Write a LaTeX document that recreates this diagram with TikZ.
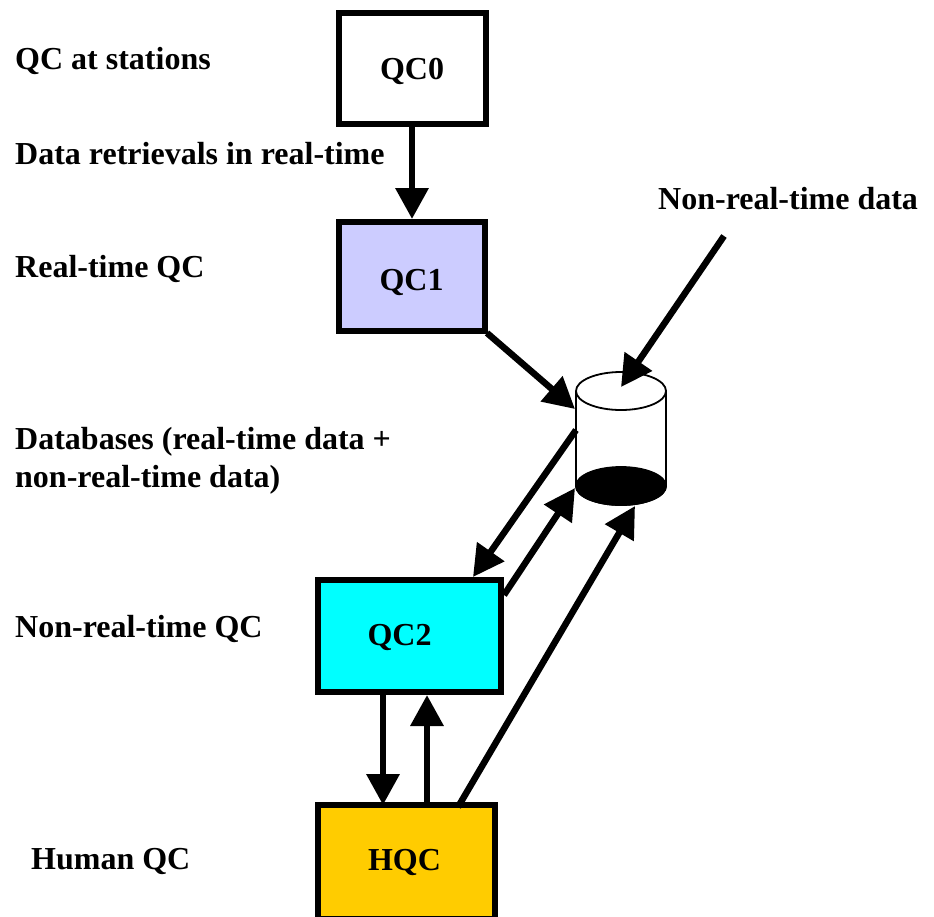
\documentclass[tikz,border=0pt]{standalone}
\usepackage{fontspec}
\setmainfont{Liberation Serif}
\usetikzlibrary{arrows.meta}
\definecolor{qcone}{RGB}{204,204,255}
\definecolor{qctwo}{RGB}{0,255,255}
\definecolor{hqc}{RGB}{255,204,0}
\tikzset{
  box/.style={draw=black,line width=6pt,inner sep=0pt,outer sep=0pt,anchor=north west},
  lbl/.style={inner sep=0pt,anchor=base west,font=\fontsize{32}{32}\selectfont\bfseries},
  boxlbl/.style={inner sep=0pt,anchor=base,font=\fontsize{32}{32}\selectfont\bfseries},
  conn/.style={line width=6.5pt,-{Triangle[length=31pt,width=32pt]}},
  cyl/.style={draw=black,line width=1.8pt}
}
\begin{document}
\begin{tikzpicture}[x=1pt,y=-1pt]
\useasboundingbox (0,0) rectangle (934,916);
\clip (0,0) rectangle (934,916);
% boxes
\node[box,minimum width=147pt,minimum height=111pt] (qc0) at (339,13) {};
\node[box,fill=qcone,minimum width=146pt,minimum height=109pt] (qc1) at (339,222) {};
\node[box,fill=qctwo,minimum width=183pt,minimum height=112pt] (qc2) at (318,580) {};
\node[box,fill=hqc,minimum width=177pt,minimum height=114pt] (hq) at (318,805) {};
% database
\node[minimum width=90pt,minimum height=95pt,inner sep=0pt,outer sep=0pt] (db) at (621,438.5) {};
\draw[cyl,fill=white] (db.north west) -- (db.south west) arc[start angle=180,end angle=360,x radius=45,y radius=-19] -- (db.north east);
\draw[cyl,fill=black] (db.south west) arc[start angle=180,end angle=360,x radius=45,y radius=-19] arc[start angle=0,end angle=180,x radius=45,y radius=-19];
\draw[cyl,fill=white] (db.north west) arc[start angle=180,end angle=-180,x radius=45,y radius=19];
% free end
\coordinate (nrt) at (724,236);
% connectors
\draw[conn] ([xshift=-0.5pt]qc0.south) -- ([yshift=3pt]qc1.north);
\draw[conn] ([xshift=2pt,yshift=-2pt]qc1.south east) -- ([xshift=-1pt,yshift=-18pt]db.north west);
\draw[conn] (nrt) -- ([yshift=4pt]db.north);
\draw[conn] ([yshift=-39pt]db.north west) -- ([xshift=63.5pt,yshift=3pt]qc2.north);
\draw[conn] ([xshift=3pt,yshift=-15pt]qc2.north east) -- ([xshift=-1pt,yshift=-2pt]db.south west);
\draw[conn] ([xshift=51.5pt,yshift=-2pt]hq.north) -- ([xshift=14pt,yshift=-20pt]db.south);
\draw[conn] ([xshift=-26.5pt]qc2.south) -- ([xshift=-23.5pt]hq.north);
\draw[conn] ([xshift=20.5pt]hq.north) -- ([xshift=17.5pt,yshift=-3pt]qc2.south);
% box labels
\node[boxlbl] (t0) at (412,79.5) {QC0};
\node[boxlbl] (t1) at (411.5,290.5) {QC1};
\node[boxlbl] (t2) at (399.5,645.5) {QC2};
\node[boxlbl] (t3) at (404.5,870.5) {HQC};
% side labels
\node[lbl] (s0) at (15,69.5) {QC at stations};
\node[lbl] (s1) at (15,164.5) {Data retrievals in real-time};
\node[lbl] (s2) at (658,209.5) {Non-real-time data};
\node[lbl] (s3) at (15,277.5) {Real-time QC};
\node[lbl] (s4) at (15,449.5) {Databases (real-time data +};
\node[lbl] (s5) at (15,487.5) {non-real-time data)};
\node[lbl] (s6) at (15,637.5) {Non-real-time QC};
\node[lbl] (s7) at (31,869.5) {Human QC};
\end{tikzpicture}
\end{document}
